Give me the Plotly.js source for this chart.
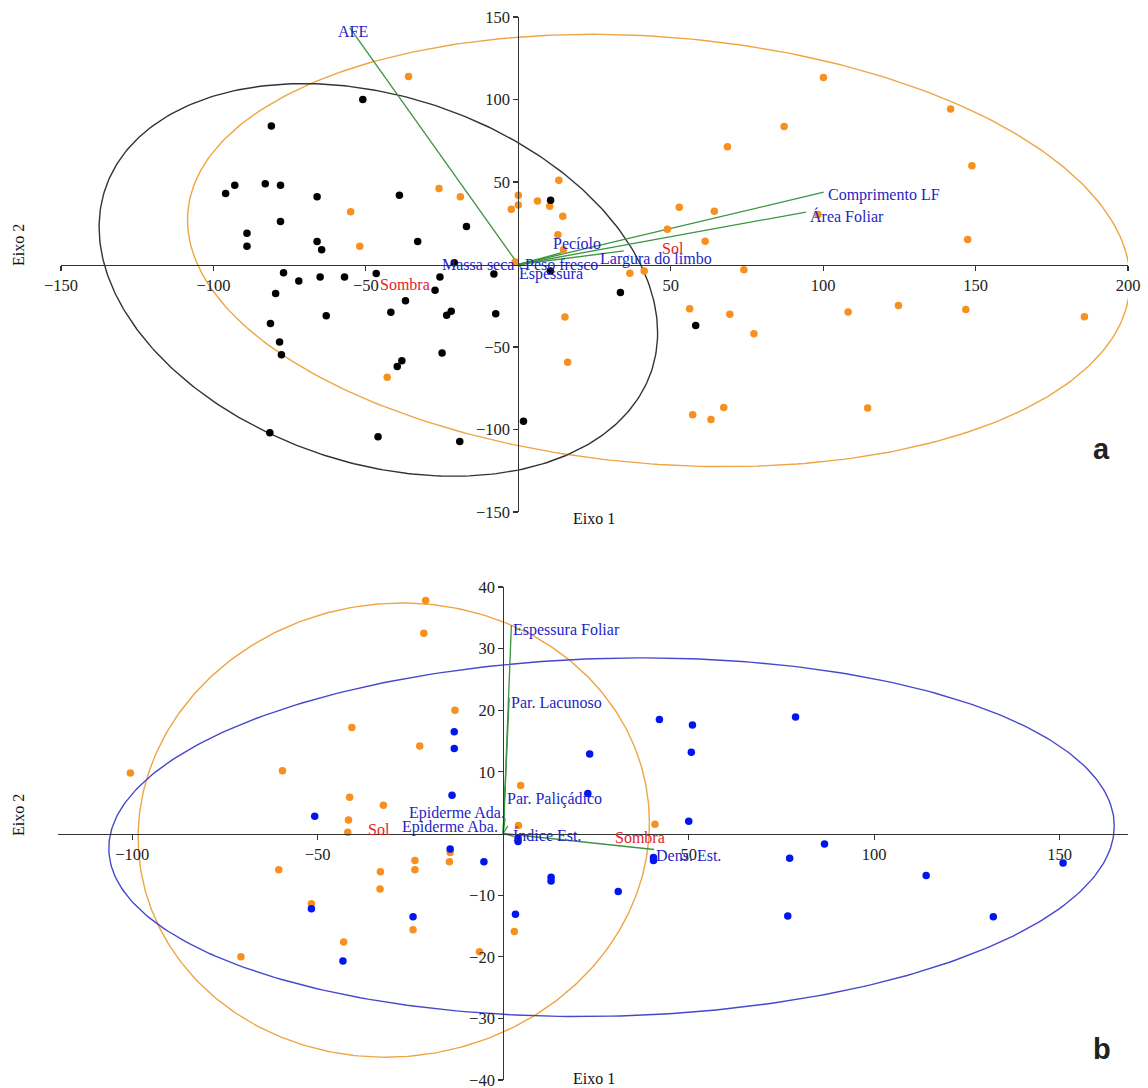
<!DOCTYPE html>
<html>
<head>
<meta charset="utf-8">
<script src="https://cdn.plot.ly/plotly-3.0.1.min.js"></script>
<style>html,body{margin:0;padding:0;background:#fff;}#chart{width:1148px;height:1088px;}</style>
</head>
<body>
<div id="chart"></div>
<script>
// ---------------- Panel a (top) ----------------
const aShadeX = [-51,-81,-96,-93,-83,-78,-66,-39,-78,-89,-89,-66,-64.5,-33,-17,10.6,-77,-72,-65,-57,-46.6,-25.7,-8,10.5,-79.6,-37,-27.3,-41.8,-63,-23.5,-22,-7.4,-81.3,-78.3,-77.7,-25,-38.2,-39.7,1.7,-81.5,-46,-19.2,33.5,58.2,-21];
const aShadeY = [100,84,43,48,49,48,41,42,26,19,11,14,9,14,23,39,-5,-10,-7.5,-7.5,-5.5,-7.5,-5.7,-4,-17.6,-22,-15.6,-29,-31,-30.8,-28.4,-29.8,-35.7,-47,-54.7,-53.7,-58.4,-61.8,-95,-102,-104.4,-107.2,-17,-37,1];
const aSunX = [-36,-55,-52,-26,-19,0,0,-2.3,6.3,10.3,13.3,14.6,13,14.8,-1,48.9,52.8,36.6,41.3,-43,15.3,16.2,56.2,69.4,77.3,108.2,124.7,146.8,185.7,67.4,57.2,63.2,114.6,100.1,141.8,87.2,68.6,148.8,64.3,98.3,61.3,147.4,74];
const aSunY = [114,32,11,46,41,42,36,33.5,38.5,35.3,51,29.3,18,9,1.5,21.4,34.7,-5.3,-4,-68.3,-31.8,-59.2,-26.8,-30.2,-42,-28.8,-24.9,-27.2,-31.6,-86.6,-91,-94,-87,113.3,94.3,83.6,71.3,59.8,32.3,30.3,14.1,15.1,-3.2];
// ellipse parameters: [centreX, halfWidth, centreY, tilt term, vertical term]
const aSunEllipse = [46.1, 154.6, 8.5, -18.5, 129.7];
const aShadeEllipse = [-45.9, 91.6, -9.35, -32, 114.6];
// variable vectors (tips)
const aVarNames = ["AFE","Comprimento LF","Área Foliar","Pecíolo","Largura do limbo","Massa seca","Peso fresco","Espessura"];
const aVarX = [-55.3, 100.2, 94.4, 14, 34.6, -2, 3, 1];
const aVarY = [143.5, 43.8, 31.8, 7, 8.2, 1, 0.5, -2];
const aLabelX = [-59.5, 101.2, 95.3, 11, 26.5, -1.1, 1.9, 0];
const aLabelY = [141.5, 42.1, 29.4, 13, 3.3, 0.3, 0.3, -5.8];
const aLabelAnchor = ["left","left","left","left","left","right","left","left"];
const aGroupNames = ["Sol","Sombra"];
const aGroupX = [46.7, -45.7];
const aGroupY = [10, -12.4];
const aXTicks = [-150,-100,-50,50,100,150,200];
const aYTicks = [-150,-100,-50,50,100,150];

// ---------------- Panel b (bottom) ----------------
const bShadeX = [-13.2,-13.2,-13.8,-50.8,4,4,-14.3,-5.2,-51.7,-24.3,-43.2,3.3,12.9,12.9,31,40.5,40.5,42.1,51,78.8,50.7,23.3,22.8,50,86.6,77.2,114,150.9,76.7,132.1];
const bShadeY = [16.5,13.8,6.2,2.8,-0.8,-1.3,-2.5,-4.6,-12.2,-13.5,-20.7,-13.1,-7.1,-7.7,-9.4,-3.9,-4.4,18.5,17.6,18.9,13.2,12.9,6.5,2,-1.7,-4,-6.8,-4.8,-13.4,-13.5];
const bSunX = [-20.9,-21.4,-13,-40.8,-22.5,-59.5,-100.5,-41.4,-32.3,-41.7,-41.9,4.7,4.1,40.9,-60.5,-51.7,-33.1,-33.2,-23.8,-23.8,-14.3,-14.5,-24.3,-43,-70.7,-6.4,3];
const bSunY = [37.8,32.5,20,17.2,14.2,10.2,9.8,5.9,4.6,2.2,0.2,7.8,1.3,1.5,-5.9,-11.4,-6.2,-9,-4.4,-5.9,-3.1,-4.6,-15.6,-17.6,-20,-19.2,-15.9];
const bSunEllipse = [-29.5, 68.9, 0.55, 1.2, 36.83];
const bShadeEllipse = [29.2, 135.5, -0.6, 1.8, 29.04];
const bVarNames = ["Espessura Foliar","Par. Lacunoso","Par. Paliçádico","Epiderme Ada.","Epiderme Aba.","Índice Est.","Dens. Est."];
const bVarX = [2.2, 1.6, 0.4, 0.5, 1.2, 3, 40.7];
const bVarY = [33.8, 22, 7.5, 2.5, 1.2, -0.5, -2.6];
const bLabelX = [2.4, 1.8, 0.8, 0.8, -1.1, 2.4, 40.9];
const bLabelY = [33, 21.2, 5.6, 3.3, 1.05, -0.25, -3.65];
const bLabelAnchor = ["left","left","left","right","right","left","left"];
const bGroupNames = ["Sol","Sombra"];
const bGroupX = [-36.7, 29.9];
const bGroupY = [0.7, -0.7];
const bXTicks = [-100,-50,50,100,150];
const bYTicks = [-40,-30,-20,-10,10,20,30,40];

// ---------------- helpers ----------------
const W = 1148, H = 1088;
const ranges = {
  ax: [-150, 200], ay: [-150, 150],
  bx: [-120, 168.4], by: [-40, 40]
};
const dom = {
  ax: [61/W, 1128/W], ay: [1-512/H, 1-17/H],
  bx: [58/W, 1128/W], by: [1-1080/H, 1-587/H]
};
function zeroPos(r, d){ return d[0] + (0 - r[0])/(r[1]-r[0])*(d[1]-d[0]); }

function ellipsePath(p){
  const xs=[], ys=[];
  for(let i=0;i<=360;i++){
    const t=i*Math.PI/180;
    xs.push(p[0] + p[1]*Math.cos(t));
    ys.push(p[2] + p[3]*Math.cos(t) + p[4]*Math.sin(t));
  }
  return {x:xs, y:ys};
}
function vectors(vx, vy){
  const xs=[], ys=[];
  for(let i=0;i<vx.length;i++){ xs.push(0, vx[i], null); ys.push(0, vy[i], null); }
  return {x:xs, y:ys};
}

const ORANGE_PT = '#f7901e';
const BLACK_PT = '#000000';
const BLUE_PT = '#0015f0';
const ORANGE_EL = '#eea544';
const BLACK_EL = '#333333';
const BLUE_EL = '#4848cc';
const GREEN = '#3a9440';
const LBL_BLUE = '#1f1fc4';
const LBL_RED = '#e2232b';
const SERIF = 'Liberation Serif, Times New Roman, serif';

const traces = [];
function addEllipse(p, color, xa, ya){
  const e = ellipsePath(p);
  traces.push({x:e.x, y:e.y, xaxis:xa, yaxis:ya, mode:'lines', line:{color:color, width:1.4}, hoverinfo:'skip', showlegend:false});
}
function addVectors(vx, vy, xa, ya){
  const v = vectors(vx, vy);
  traces.push({x:v.x, y:v.y, xaxis:xa, yaxis:ya, mode:'lines', line:{color:GREEN, width:1.3}, hoverinfo:'skip', showlegend:false});
}
function addPoints(x, y, color, xa, ya){
  traces.push({x:x, y:y, xaxis:xa, yaxis:ya, mode:'markers', marker:{color:color, size:7.5}, showlegend:false});
}

addEllipse(aSunEllipse, ORANGE_EL, 'x', 'y');
addEllipse(aShadeEllipse, BLACK_EL, 'x', 'y');
addVectors(aVarX, aVarY, 'x', 'y');
addPoints(aSunX, aSunY, ORANGE_PT, 'x', 'y');
addPoints(aShadeX, aShadeY, BLACK_PT, 'x', 'y');

addEllipse(bSunEllipse, ORANGE_EL, 'x2', 'y2');
addEllipse(bShadeEllipse, BLUE_EL, 'x2', 'y2');
addVectors(bVarX, bVarY, 'x2', 'y2');
addPoints(bSunX, bSunY, ORANGE_PT, 'x2', 'y2');
addPoints(bShadeX, bShadeY, BLUE_PT, 'x2', 'y2');

const annotations = [];
function addLabels(names, xs, ys, anchors, color, xr, yr){
  for(let i=0;i<names.length;i++){
    annotations.push({text:names[i], x:xs[i], y:ys[i], xref:xr, yref:yr, showarrow:false,
      xanchor:anchors?anchors[i]:'left', yanchor:'middle', borderpad:0,
      font:{family:SERIF, size:16, color:color}});
  }
}
addLabels(aVarNames, aLabelX, aLabelY, aLabelAnchor, LBL_BLUE, 'x', 'y');
addLabels(aGroupNames, aGroupX, aGroupY, null, LBL_RED, 'x', 'y');
addLabels(bVarNames, bLabelX, bLabelY, bLabelAnchor, LBL_BLUE, 'x2', 'y2');
addLabels(bGroupNames, bGroupX, bGroupY, null, LBL_RED, 'x2', 'y2');

function paperAnn(text, px, py, opts){
  annotations.push(Object.assign({text:text, x:px/W, y:1-py/H, xref:'paper', yref:'paper', showarrow:false,
    xanchor:'left', yanchor:'middle', font:{family:SERIF, size:16, color:'#111'}}, opts||{}));
}
paperAnn('Eixo 1', 571, 518);
paperAnn('Eixo 1', 571, 1078);
paperAnn('Eixo 2', 18, 245, {textangle:-90, xanchor:'center'});
paperAnn('Eixo 2', 18, 815, {textangle:-90, xanchor:'center'});
paperAnn('<b>a</b>', 1101, 449, {xanchor:'center', font:{family:'Liberation Sans, Arial, sans-serif', size:29, color:'#222'}});
paperAnn('<b>b</b>', 1102, 1049, {xanchor:'center', font:{family:'Liberation Sans, Arial, sans-serif', size:29, color:'#222'}});

function axisCommon(){
  return {showgrid:false, zeroline:false, showline:true, linecolor:'#333', linewidth:1.2,
    ticks:'outside', ticklen:5, tickcolor:'#333', tickwidth:1.2, ticklabeloverflow:'allow',
    tickfont:{family:SERIF, size:16.5, color:'#222'}, tickmode:'array', fixedrange:true};
}

const layout = {
  width:W, height:H, autosize:false,
  margin:{l:0, r:0, t:0, b:0, pad:0},
  paper_bgcolor:'#fff', plot_bgcolor:'rgba(0,0,0,0)',
  showlegend:false,
  xaxis: Object.assign(axisCommon(), {range:ranges.ax, domain:dom.ax, anchor:'free', position:zeroPos(ranges.ay, dom.ay), tickvals:aXTicks, side:'bottom'}),
  yaxis: Object.assign(axisCommon(), {range:ranges.ay, domain:dom.ay, anchor:'free', position:zeroPos(ranges.ax, dom.ax), tickvals:aYTicks, side:'left'}),
  xaxis2: Object.assign(axisCommon(), {range:ranges.bx, domain:dom.bx, anchor:'free', position:zeroPos(ranges.by, dom.by), tickvals:bXTicks, side:'bottom'}),
  yaxis2: Object.assign(axisCommon(), {range:ranges.by, domain:dom.by, anchor:'free', position:zeroPos(ranges.bx, dom.bx), tickvals:bYTicks, side:'left'}),
  annotations: annotations
};

Plotly.newPlot('chart', traces, layout, {displayModeBar:false, staticPlot:true});
</script>
</body>
</html>
